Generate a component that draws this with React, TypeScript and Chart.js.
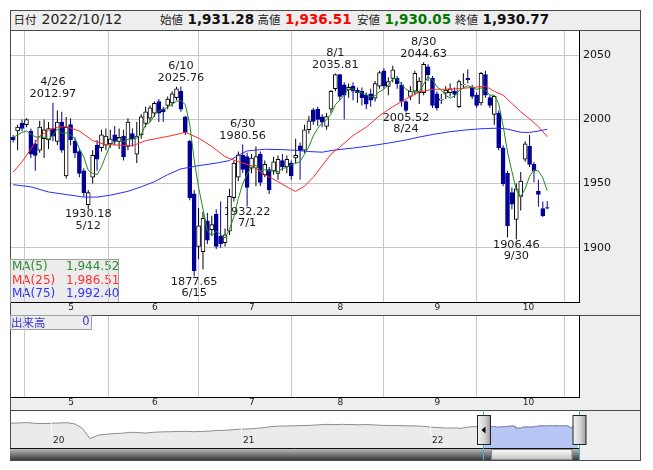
import React, { useEffect, useRef } from 'react';
import { Chart, registerables } from 'chart.js';

Chart.register(...registerables);

const FONT = '"DejaVu Sans", Verdana, sans-serif';
const CJK = '"Noto Sans CJK JP", "DejaVu Sans", sans-serif';
Chart.defaults.font.family = FONT;

const YEAR = 2022;

const dates = [
  '4/13','4/14','4/15','4/18','4/19','4/20','4/21','4/22','4/25','4/26','4/27','4/28',
  '5/2','5/6','5/9','5/10','5/11','5/12','5/13','5/16','5/17','5/18','5/19','5/20','5/23','5/24','5/25','5/26','5/27','5/30','5/31',
  '6/1','6/2','6/3','6/6','6/7','6/8','6/9','6/10','6/13','6/14','6/15','6/16','6/17','6/20','6/21','6/22','6/23','6/24','6/27','6/28','6/29','6/30',
  '7/1','7/4','7/5','7/6','7/7','7/8','7/11','7/12','7/13','7/14','7/15','7/19','7/20','7/21','7/22','7/25','7/26','7/27','7/28','7/29',
  '8/1','8/2','8/3','8/4','8/5','8/8','8/9','8/10','8/12','8/15','8/16','8/17','8/18','8/19','8/22','8/23','8/24','8/25','8/26','8/29','8/30','8/31',
  '9/1','9/2','9/5','9/6','9/7','9/8','9/9','9/12','9/13','9/14','9/15','9/16','9/20','9/21','9/22','9/26','9/27','9/28','9/29','9/30',
  '10/3','10/4','10/5','10/6','10/7','10/11','10/12',
];

const opens = [
  1986, 1991, 1997, 1996, 1991, 1981, 1976, 1985, 1984, 1993, 1983, 1998,
  1956, 1996, 1983, 1975, 1960, 1933.5, 1955, 1980, 1978, 1980, 1981, 1988, 1983, 1987, 1979, 1989, 1973, 1988, 1997,
  2001, 2005, 2014, 2008, 2011, 2013, 2017, 2022, 2002, 1983, 1942, 1901, 1897, 1921, 1914, 1926, 1909, 1904, 1913, 1939, 1955, 1972,
  1971, 1962, 1962, 1973, 1957, 1961, 1960, 1958, 1968, 1963, 1966, 1970, 1979.5, 1976, 1992, 2007.5, 2008, 2002, 1994.6, 2008,
  2024, 2035, 2027, 2023, 2026, 2023, 2022, 2019, 2020, 2016.6, 2026, 2038, 2025.7, 2032, 2032, 2027, 2014, 2018, 2022, 2021, 2021, 2041,
  2032, 2020, 2015, 2020.5, 2021, 2022, 2010, 2027, 2032, 2025, 2019, 2013, 2035, 2017, 2004, 2005, 1978, 1958, 1943, 1922,
  1940, 1969, 1979, 1965, 1944, 1930.5, 1931.28,
];
const highs = [
  1988, 1996, 2000, 2001, 1993, 1984, 1999, 2000, 1998, 2012.97, 2007, 2006,
  2002, 2001, 1986, 1977, 1962, 1945, 1976, 1984, 1992, 1993, 1992, 1995, 1993, 1992, 2001, 1993, 1998, 2004, 2010,
  2011, 2014, 2016, 2010, 2018, 2022, 2025.5, 2025.76, 2003, 1984, 1945, 1931, 1928, 1927, 1925, 1930, 1936, 1915, 1946, 1968, 1975, 1980.56,
  1974, 1973, 1979, 1975, 1968, 1963, 1971, 1972, 1973, 1972, 1968, 1985, 1982, 1996, 2003, 2009, 2010, 2004, 2005, 2023,
  2035.81, 2035.5, 2029, 2028, 2029, 2025, 2025, 2021, 2024, 2030, 2038, 2040, 2033, 2042, 2034, 2029, 2015, 2026, 2038, 2033, 2044.63, 2043,
  2034, 2022, 2020, 2026, 2028, 2025, 2031, 2036, 2039, 2027, 2021, 2037, 2038, 2019, 2019, 2007, 1980, 1960, 1947, 1950,
  1959, 1983, 1988, 1967, 1953, 1936, 1936.51,
];
const lows = [
  1982, 1976, 1991, 1994, 1970, 1960, 1974, 1970, 1977, 1983, 1980, 1974,
  1954, 1980, 1970, 1955, 1940, 1930.18, 1950, 1960, 1975, 1976, 1978, 1980, 1977, 1968, 1976, 1979, 1966, 1985, 1994,
  1998, 2002, 1998, 1998, 2008, 2010, 2015, 2006, 1988, 1937, 1877.65, 1891, 1883, 1903, 1910, 1899, 1900, 1901, 1910, 1936, 1952, 1958,
  1932.22, 1958, 1948, 1948, 1955, 1942, 1957, 1953, 1960, 1958, 1953, 1966, 1953, 1974, 1989, 1996, 1995, 1994, 1992, 2005,
  2022, 2015, 2000, 2017, 2015, 2013, 2011, 2008, 2010, 2014, 2024, 2024, 2019, 2029, 2024, 2010, 2005.52, 2015, 2019, 2012, 2019, 2030,
  2009, 2007, 2012, 2016, 2018, 2017, 2009, 2024.4, 2028, 2016, 2009, 2011, 2017, 2009, 1996, 1976, 1948, 1908, 1930, 1906.46,
  1929, 1967, 1963, 1951, 1932, 1924, 1930.05,
];
const closes = [
  1984, 1994, 1993, 2000, 1973, 1972, 1994, 1992, 1993, 1987, 1998, 1976,
  1994, 1984, 1974, 1958, 1943, 1943, 1972, 1969, 1988, 1987, 1985, 1983, 1986, 1971, 1998, 1985, 1987, 2002, 2006,
  2009, 2012.7, 2005, 2006, 2016, 2020, 2024, 2008, 1990, 1939, 1882, 1917, 1923, 1906, 1918, 1901, 1903, 1910, 1940, 1966, 1972.5, 1961,
  1947, 1970, 1971, 1951, 1965, 1945, 1967, 1969, 1963, 1969, 1956, 1972, 1975.6, 1992, 1999, 1998.5, 2000, 1998, 2002.3, 2022,
  2035, 2018, 2019, 2025, 2022, 2021, 2017, 2012, 2015, 2028, 2036.6, 2026, 2029.6, 2038.7, 2028, 2014, 2007, 2022, 2036, 2030, 2043, 2035,
  2011, 2009, 2016, 2023, 2024, 2019.5, 2029.6, 2027.5, 2031, 2018, 2011, 2036, 2019, 2011, 2018, 1978, 1950, 1917, 1934, 1946,
  1952, 1981, 1965, 1960, 1941.5, 1925, 1930.77,
];

// moving averages
const ma5 = [
  1986, 1988, 1990, 1991, 1988.8, 1986.4, 1986.4, 1986.2, 1984.8, 1987.6,
  1992.8, 1989.2, 1989.6, 1987.8, 1985.2, 1977.2, 1970.6, 1960.4, 1958, 1957,
  1963, 1971.8, 1980.2, 1982.4, 1985.8, 1982.4, 1984.6, 1984.6, 1985.4, 1988.6,
  1995.6, 1997.8, 2003.3, 2006.9, 2007.7, 2009.7, 2011.9, 2014.2, 2014.8, 2011.6,
  1996.2, 1968.6, 1947.2, 1930.2, 1913.4, 1909.2, 1913, 1910.2, 1907.6, 1914.4,
  1924, 1938.3, 1949.9, 1957.3, 1963.3, 1964.3, 1960, 1960.8, 1960.4, 1959.8,
  1959.4, 1961.8, 1962.6, 1964.8, 1965.8, 1967.1, 1972.9, 1978.9, 1987.4, 1993,
  1997.5, 1999.6, 2004.2, 2011.5, 2015.1, 2019.3, 2023.8, 2023.8, 2021, 2020.8,
  2019.4, 2017.4, 2018.6, 2021.7, 2023.5, 2027, 2031.8, 2031.8, 2027.3, 2023.5,
  2021.9, 2021.4, 2021.8, 2027.6, 2033.2, 2031, 2025.6, 2022.8, 2018.8, 2016.6,
  2018.3, 2022.4, 2024.7, 2026.3, 2025.1, 2023.4, 2024.7, 2023, 2019, 2019,
  2012.4, 1995.2, 1974.8, 1959.4, 1945, 1939.8, 1946, 1955.6, 1960.8, 1959.9,
  1954.5, 1944.52,
];
const ma25Dates = ['4/13','4/15','4/19','4/21','4/25','4/27','5/2','5/10','5/13','5/18','5/23','5/26','5/31','6/3','6/8','6/13','6/16','6/21','6/24','6/29','7/4','7/7','7/12','7/15','7/19','7/21','7/25','7/27','7/29','8/2','8/5','8/10','8/16','8/19','8/24','8/29','9/1','9/6','9/9','9/14','9/20','9/22','9/27','9/29','10/3','10/5','10/7','10/12'];
const ma25Values = [1959, 1967, 1977, 1987, 1991.5, 1994, 1994.5, 1991, 1983.5, 1980.5, 1980, 1979.5, 1983.5, 1985.5, 1987.5, 1990, 1985.5, 1979, 1971, 1967, 1964, 1957, 1951.5, 1945.5, 1944, 1948, 1955, 1964, 1973, 1978.5, 1987.5, 1994, 2003, 2010, 2016, 2021.5, 2023.5, 2023.6, 2024, 2025, 2026, 2022, 2019, 2012.5, 2006, 2000.5, 1994.5, 1986.51];
const ma75Dates = ['4/13','4/19','4/25','5/2','5/11','5/16','5/19','5/25','5/30','6/2','6/7','6/10','6/16','6/22','6/27','6/29','7/1','7/7','7/13','7/19','7/22','7/27','8/1','8/5','8/12','8/18','8/24','8/29','9/1','9/7','9/13','9/20','9/26','9/28','10/3','10/5','10/7','10/12'];
const ma75Values = [1949.2, 1947.5, 1943.5, 1941.5, 1939.5, 1939.5, 1941, 1944, 1947.5, 1951.5, 1957, 1961.5, 1964, 1966, 1968, 1972, 1975.5, 1976.8, 1976.5, 1976, 1975, 1974.5, 1976.3, 1977.7, 1979.5, 1981.6, 1984, 1986.3, 1988.3, 1990.5, 1992, 1993, 1993.2, 1992.5, 1990, 1989.9, 1991, 1992.40];

const monthStartDates = ['5/2','6/1','7/1','8/1','9/1','10/3'];
const monthLabels = ['5','6','7','8','9','10'];
const highMarks = ['4/26','6/10','6/30','8/1','8/30'];
const lowMarks = ['5/12','6/15','7/1','8/24','9/30'];

const volumeLabel = '出来高';
const volumeLast = 0;

// navigator (long-range overview), half-month readings
const navMonths = ['2019-10','2019-11','2019-12','2020-01','2020-02','2020-03','2020-04','2020-05','2020-06','2020-07','2020-08','2020-09','2020-10','2020-11','2020-12','2021-01','2021-02','2021-03','2021-04','2021-05','2021-06','2021-07','2021-08','2021-09','2021-10','2021-11','2021-12','2022-01','2022-02','2022-03','2022-04'];
const navValues = [[2140,2160],[2170,2190],[2150,2140],[2150,2170],[2180,2120],[1900,1380],[1560,1600],[1640,1650],[1700,1690],[1660,1700],[1720,1730],[1740,1750],[1730,1740],[1760,1790],[1800,1830],[1860,1870],[1900,1940],[1990,2010],[2020,2030],[2040,2050],[2080,2100],[2090,2100],[2090,2080],[2090,2070],[2050,2040],[2040,2030],[2020,2010],[1960,1940],[1910,1920],[1900,1970],[1985]];
const navYears = [2020, 2021, 2022];
const navYearLabels = ['20', '21', '22'];

const Y_MIN = 1857.7, Y_MAX = 2069, Y_STEP = 50;
const X_MIN = -0.5, X_MAX = 128.2;
const NAV_X_MIN = 2019.788, NAV_X_MAX = 2022.784;
const NAV_Y_MIN = 910, NAV_Y_MAX = 2772;

const DOWN = '#000099';
const GRID = '#c8c8c8';

const fmt = (v: number) => v.toLocaleString('en-US', { minimumFractionDigits: 2, maximumFractionDigits: 2 });
const dateIdx = (d: string) => dates.indexOf(d);
function decYear(y: number, m: number, d: number) {
  const s = Date.UTC(y, 0, 1), e = Date.UTC(y + 1, 0, 1);
  return y + (Date.UTC(y, m - 1, d) - s) / (e - s);
}
const isUp = (i: number) => closes[i] >= opens[i];

function makeX(): any {
  return {
    type: 'linear', min: X_MIN, max: X_MAX, offset: false,
    afterBuildTicks: (s: any) => { s.ticks = monthStartDates.map((d) => ({ value: dateIdx(d) })); },
    afterFit: (s: any) => { s.height = 13; s.paddingLeft = 0; s.paddingRight = 0; },
    grid: { color: GRID, drawTicks: false, lineWidth: 1 },
    border: { display: true, color: '#000', width: 1 },
    ticks: {
      autoSkip: false, maxRotation: 0, minRotation: 0, align: 'start', labelOffset: 2, padding: 0,
      font: { size: 9, family: FONT }, color: '#222',
      callback: (_v: any, i: number) => monthLabels[i],
    },
  };
}

const mainDecor = {
  id: 'mainDecor',
  beforeDraw(chart: any) {
    const ctx = chart.ctx;
    const ca = chart.chartArea;
    ctx.save();
    const top = ca.bottom - 43;
    ctx.fillStyle = '#ececec';
    ctx.fillRect(0, top, 108, 43);
    ctx.strokeStyle = '#a0a0a0';
    ctx.lineWidth = 1;
    ctx.strokeRect(0.5, top + 0.5, 108, 43);
    const rows = [
      { t: 'MA(5)', v: ma5[ma5.length - 1], c: '#2e8b2e' },
      { t: 'MA(25)', v: ma25Values[ma25Values.length - 1], c: '#ff3030' },
      { t: 'MA(75)', v: ma75Values[ma75Values.length - 1], c: '#3333ff' },
    ];
    ctx.font = `12px ${FONT}`;
    ctx.textBaseline = 'middle';
    ctx.textAlign = 'left';
    rows.forEach((r, k) => {
      const y = top + 7.7 + k * 13.8;
      ctx.fillStyle = r.c;
      ctx.fillText(r.t, 2, y);
      ctx.fillText(fmt(r.v), 56, y);
    });
    ctx.restore();
  },
  beforeDatasetsDraw(chart: any) {
    const ctx = chart.ctx;
    const xs = chart.scales.x, ys = chart.scales.y;
    ctx.save();
    ctx.font = `11.3px ${FONT}`;
    ctx.fillStyle = '#1a1a1a';
    ctx.textAlign = 'center';
    ctx.textBaseline = 'middle';
    highMarks.forEach((d) => {
      const i = dateIdx(d);
      const x = xs.getPixelForValue(i), y = ys.getPixelForValue(highs[i]);
      ctx.fillText(highs[i].toFixed(2), x, y - 8.5);
      ctx.fillText(d, x, y - 20.5);
    });
    lowMarks.forEach((d) => {
      const i = dateIdx(d);
      const x = xs.getPixelForValue(i), y = ys.getPixelForValue(lows[i]);
      ctx.fillText(lows[i].toFixed(2), x, y + 5.5);
      ctx.fillText(d, x, y + 17);
    });
    ctx.restore();
  },
};

const volDecor = {
  id: 'volDecor',
  beforeDraw(chart: any) {
    const ctx = chart.ctx;
    ctx.save();
    ctx.fillStyle = '#ececec';
    ctx.fillRect(0, 0, 82, 15);
    ctx.strokeStyle = '#a0a0a0';
    ctx.lineWidth = 1;
    ctx.strokeRect(0.5, 0.5, 81, 14);
    ctx.fillStyle = '#3333cc';
    ctx.textBaseline = 'middle';
    ctx.font = `11.5px ${CJK}`;
    ctx.textAlign = 'left';
    ctx.fillText(volumeLabel, 1, 7.5);
    ctx.font = `11.5px ${FONT}`;
    ctx.textAlign = 'right';
    ctx.fillText(String(volumeLast), 79.5, 7.5);
    ctx.restore();
  },
};

function recentStart() {
  const [m, d] = dates[0].split('/').map(Number);
  return decYear(YEAR, m, d);
}

const navDecor = {
  id: 'navDecor',
  afterDatasetsDraw(chart: any) {
    const ctx = chart.ctx; const ca = chart.chartArea; const xs = chart.scales.x;
    ctx.save();
    ctx.strokeStyle = 'rgba(255,255,255,0.95)';
    ctx.lineWidth = 1;
    ctx.font = `9px ${FONT}`;
    ctx.fillStyle = '#222';
    ctx.textBaseline = 'middle';
    ctx.textAlign = 'left';
    navYears.forEach((yv, k) => {
      const x = Math.round(xs.getPixelForValue(yv)) + 0.5;
      ctx.beginPath(); ctx.moveTo(x, ca.top + 12); ctx.lineTo(x, ca.bottom - 12); ctx.stroke();
      ctx.fillText(navYearLabels[k], x + 1.5, ca.bottom - 7.5);
    });
    ctx.restore();
  },
  afterDraw(chart: any) {
    const ctx = chart.ctx; const ca = chart.chartArea; const xs = chart.scales.x;
    const xsel = Math.round(xs.getPixelForValue(recentStart())) + 0.5;
    const xend = Math.round(ca.right) + 0.5;
    ctx.save();
    ctx.strokeStyle = '#111';
    ctx.lineWidth = 1;
    ctx.beginPath(); ctx.moveTo(0, ca.bottom + 0.5); ctx.lineTo(xend, ca.bottom + 0.5); ctx.stroke();
    const sTop = ca.bottom + 1, sH = 11;
    let g = ctx.createLinearGradient(0, sTop, 0, sTop + sH);
    g.addColorStop(0, '#b8b8b8'); g.addColorStop(0.5, '#7a7a7a'); g.addColorStop(1, '#3a3a3a');
    ctx.fillStyle = g;
    ctx.fillRect(0, sTop, xend - 0.5, sH);
    g = ctx.createLinearGradient(0, sTop, 0, sTop + sH);
    g.addColorStop(0, '#fdfdfd'); g.addColorStop(1, '#c2c2c2');
    ctx.fillStyle = g;
    const t0 = xsel + 8, t1 = xend - 7.5;
    ctx.fillRect(t0, sTop, t1 - t0, sH);
    ctx.strokeStyle = '#8a8a8a';
    ctx.strokeRect(t0, sTop + 0.5, t1 - t0, sH - 1);
    ctx.strokeStyle = '#3fb0e0';
    [xsel, xend].forEach((x) => { ctx.beginPath(); ctx.moveTo(x, ca.top - 1); ctx.lineTo(x, ca.bottom + 12); ctx.stroke(); });
    const hTop = ca.top + 4.5, hH = 29;
    const handle = (l: number, r: number) => {
      const hg = ctx.createLinearGradient(l, 0, r, 0);
      hg.addColorStop(0, '#f4f4f4'); hg.addColorStop(0.6, '#d0d0d0'); hg.addColorStop(1, '#9a9a9a');
      ctx.fillStyle = hg;
      ctx.fillRect(l, hTop, r - l, hH);
      ctx.strokeStyle = '#222';
      ctx.strokeRect(l, hTop, r - l, hH);
    };
    handle(xsel - 6, xsel + 7);
    handle(xend - 6.5, xend + 6.5);
    ctx.fillStyle = '#000';
    const cy = hTop + hH / 2;
    ctx.beginPath(); ctx.moveTo(xsel - 2, cy); ctx.lineTo(xsel + 2, cy - 3.5); ctx.lineTo(xsel + 2, cy + 3.5); ctx.closePath(); ctx.fill();
    ctx.restore();
  },
};

export default function App() {
  const mainRef = useRef<HTMLCanvasElement>(null);
  const volRef = useRef<HTMLCanvasElement>(null);
  const navRef = useRef<HTMLCanvasElement>(null);

  useEffect(() => {
    const charts: Chart[] = [];
    const lineDs = (label: string, data: any[], color: string, order: number) => ({
      type: 'line', label, data, borderColor: color, borderWidth: 1, pointRadius: 0,
      tension: 0, spanGaps: true, fill: false, order,
    });

    charts.push(new Chart(mainRef.current as any, {
      type: 'bar',
      data: {
        datasets: [
          lineDs('MA(5)', ma5.map((v, i) => ({ x: i, y: v })), '#1f8a1f', 0),
          lineDs('MA(25)', ma25Dates.map((d, k) => ({ x: dateIdx(d), y: ma25Values[k] })), '#ff2a2a', 1),
          lineDs('MA(75)', ma75Dates.map((d, k) => ({ x: dateIdx(d), y: ma75Values[k] })), '#2a2aff', 2),
          {
            type: 'bar', label: 'body',
            data: dates.map((_d, i) => ({ x: i, y: [opens[i], closes[i]] })),
            backgroundColor: dates.map((_d, i) => (isUp(i) ? '#ffffff' : DOWN)),
            borderColor: dates.map((_d, i) => (isUp(i) ? '#000000' : DOWN)),
            borderWidth: 1, borderSkipped: false, barThickness: 4, grouped: false, order: 3,
          },
          {
            type: 'bar', label: 'wick',
            data: dates.map((_d, i) => ({ x: i, y: [lows[i], highs[i]] })),
            backgroundColor: dates.map((_d, i) => (isUp(i) ? '#000000' : DOWN)),
            borderWidth: 0, barThickness: 1, grouped: false, inflateAmount: 0, order: 4,
          },
        ] as any,
      },
      options: {
        responsive: false, animation: false, events: [],
        layout: { autoPadding: false, padding: { left: 1, top: 1, right: 0, bottom: 0 } },
        plugins: { legend: { display: false }, tooltip: { enabled: false } },
        scales: {
          x: makeX(),
          y: {
            type: 'linear', position: 'right', min: Y_MIN, max: Y_MAX,
            afterFit: (s: any) => { s.width = 61; s.paddingTop = 0; s.paddingBottom = 0; },
            grid: { color: GRID, drawTicks: false },
            border: { display: true, color: '#000' },
            ticks: { stepSize: Y_STEP, includeBounds: false, padding: 4, font: { size: 11, family: FONT }, color: '#111', callback: (v: any) => String(v) },
          },
        },
      } as any,
      plugins: [mainDecor],
    }));

    charts.push(new Chart(volRef.current as any, {
      type: 'bar',
      data: { datasets: [] },
      options: {
        responsive: false, animation: false, events: [],
        layout: { autoPadding: false, padding: { left: 1, top: 1, right: 0, bottom: 0 } },
        plugins: { legend: { display: false }, tooltip: { enabled: false } },
        scales: {
          x: makeX(),
          y: {
            type: 'linear', position: 'right', min: 0, max: 1,
            afterFit: (s: any) => { s.width = 61; s.paddingTop = 0; s.paddingBottom = 0; },
            grid: { display: false },
            border: { display: true, color: '#000' },
            ticks: { display: false },
          },
        },
      } as any,
      plugins: [volDecor],
    }));

    const navHistory: any[] = [];
    navMonths.forEach((ym, k) => {
      const [y, m] = ym.split('-').map(Number);
      navValues[k].forEach((v, j) => navHistory.push({ x: decYear(y, m, j === 0 ? 1 : 16), y: v }));
    });
    const navRecent = dates.map((d, i) => {
      const [m, dd] = d.split('/').map(Number);
      return { x: decYear(YEAR, m, dd), y: closes[i] };
    });

    charts.push(new Chart(navRef.current as any, {
      type: 'line',
      data: {
        datasets: [
          { label: 'selected', data: navRecent, borderColor: '#7884b8', backgroundColor: '#b7c6f5', borderWidth: 1, pointRadius: 0, fill: 'start', order: 0 },
          { label: 'history', data: navHistory.concat(navRecent), borderColor: '#8c8c8c', backgroundColor: '#ebebeb', borderWidth: 1, pointRadius: 0, fill: 'start', order: 1 },
        ],
      },
      options: {
        responsive: false, animation: false, events: [],
        layout: { autoPadding: false, padding: { left: 1, top: 1, right: 61, bottom: 12 } },
        plugins: { legend: { display: false }, tooltip: { enabled: false } },
        scales: {
          x: { type: 'linear', min: NAV_X_MIN, max: NAV_X_MAX, display: false },
          y: { type: 'linear', min: NAV_Y_MIN, max: NAV_Y_MAX, display: false },
        },
      } as any,
      plugins: [navDecor],
    }));

    return () => charts.forEach((c) => c.destroy());
  }, []);

  const last = dates.length - 1;
  const hdr = [
    { label: '始値', value: opens[last], color: '#111', lx: 160 },
    { label: '高値', value: highs[last], color: '#ff0000', lx: 257.5 },
    { label: '安値', value: lows[last], color: '#007a00', lx: 357 },
    { label: '終値', value: closes[last], color: '#111', lx: 455 },
  ];
  const abs = (o: any) => ({ position: 'absolute', ...o } as React.CSSProperties);
  const [lm, ld] = dates[last].split('/');

  return (
    <div style={abs({ left: 0, top: 0, width: 653, height: 470, fontFamily: FONT })}>
      <div style={abs({ left: 10, top: 10, width: 631, height: 451, boxSizing: 'border-box', border: '1px solid #4a4a4a', background: '#eeeeee' })} />
      <div style={abs({ left: 11, top: 31, width: 568, height: 271, background: '#ffffff' })} />
      <div style={abs({ left: 11, top: 316, width: 568, height: 81, background: '#ffffff' })} />
      <div style={abs({ left: 11, top: 411, width: 568, height: 37, background: '#ffffff' })} />
      <div style={abs({ left: 11, top: 30, width: 629, height: 1, background: '#4a4a4a' })} />
      <div style={abs({ left: 11, top: 315, width: 629, height: 1, background: '#4a4a4a' })} />
      <div style={abs({ left: 11, top: 410, width: 629, height: 1, background: '#4a4a4a' })} />

      <span style={abs({ left: 13.5, top: 9, lineHeight: '20px', fontSize: 11.5, fontFamily: CJK, color: '#222', whiteSpace: 'nowrap' })}>日付</span>
      <span style={abs({ left: 41.5, top: 9, lineHeight: '20px', fontSize: 14, color: '#222', whiteSpace: 'nowrap' })}>{`${YEAR}/${lm}/${ld}`}</span>
      {hdr.map((h) => (
        <React.Fragment key={h.label}>
          <span style={abs({ left: h.lx, top: 9, lineHeight: '20px', fontSize: 11.5, fontFamily: CJK, color: '#222', whiteSpace: 'nowrap' })}>{h.label}</span>
          <span style={abs({ left: h.lx + 27.5, top: 9, lineHeight: '20px', fontSize: 13.5, fontWeight: 'bold', color: h.color, whiteSpace: 'nowrap' })}>{fmt(h.value)}</span>
        </React.Fragment>
      ))}

      <canvas ref={mainRef} width={630} height={285} style={abs({ left: 10, top: 30 })} />
      <canvas ref={volRef} width={630} height={95} style={abs({ left: 10, top: 315 })} />
      <canvas ref={navRef} width={630} height={50} style={abs({ left: 10, top: 410 })} />
    </div>
  );
}
